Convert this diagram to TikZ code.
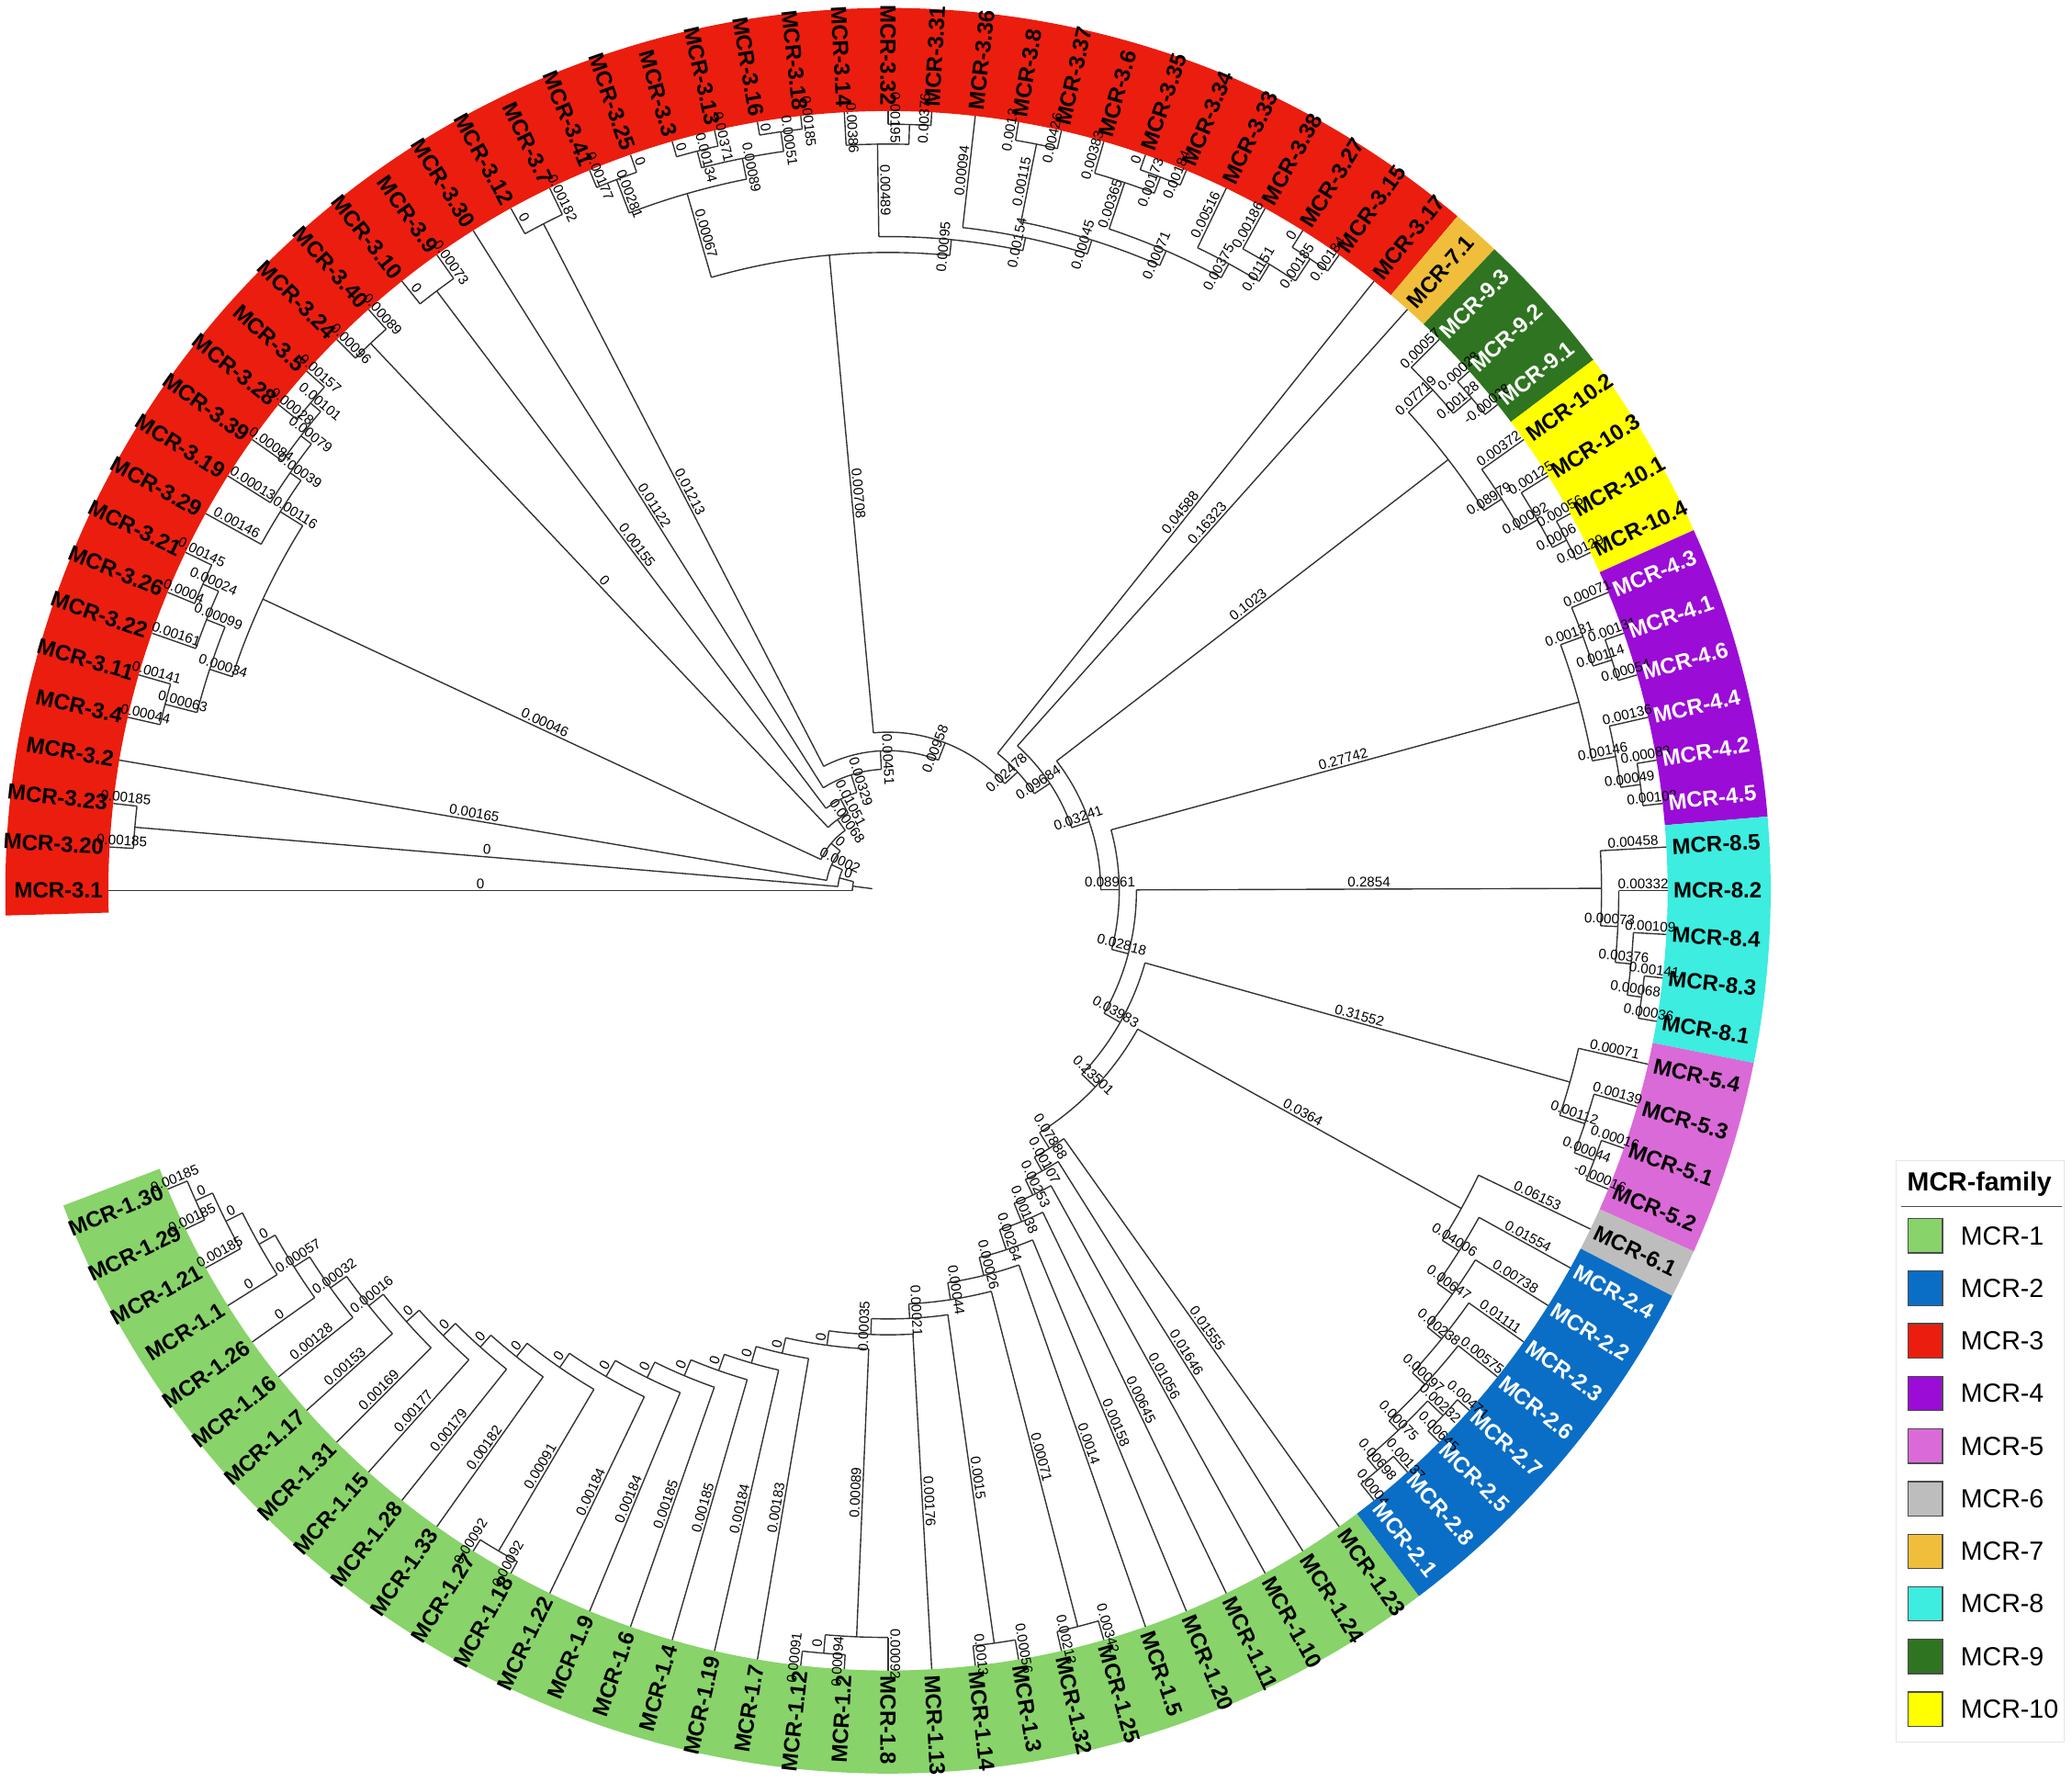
\documentclass[tikz,border=0pt]{standalone}
\usepackage{fontspec}
\setmainfont{Liberation Sans}
\usetikzlibrary{positioning}

\definecolor{mcr1}{HTML}{88D36A}
\definecolor{mcr2}{HTML}{0A6EC6}
\definecolor{mcr3}{HTML}{EB1D0E}
\definecolor{mcr4}{HTML}{9B0CD6}
\definecolor{mcr5}{HTML}{DA6AD8}
\definecolor{mcr6}{HTML}{BDBDBD}
\definecolor{mcr7}{HTML}{F0BE3A}
\definecolor{mcr8}{HTML}{3DEDDF}
\definecolor{mcr9}{HTML}{2F7420}
\definecolor{mcr10}{HTML}{FFFF00}

\tikzset{
    treeline/.style={line width=0.55pt, draw=black!80},
    blab/.style={font=\fontsize{6}{6}\selectfont, inner sep=0.8pt, anchor=south},
    leaflabel/.style={font=\bfseries\fontsize{9.5}{10}\selectfont, inner sep=0.6pt},
    legsq/.style={draw=black!70, line width=0.5pt, minimum size=0.52cm, inner sep=0pt},
    legtxt/.style={font=\fontsize{11.3}{12}\selectfont, inner sep=0pt}
}

\newcommand\stp{3.2142857}
\newcommand\upx{0.02cm}
\newcount\blc

% arc of an inner node, from leaf position #2 to #3, radius #1
\newcommand\tarc[3]{%
  \pgfmathsetmacro\tA{180-(#2)*\stp}%
  \pgfmathsetmacro\tB{180-(#3)*\stp}%
  \draw[treeline] (\tA:#1) arc[start angle=\tA, end angle=\tB, radius=#1*\upx];}

% radial branch at leaf position #1 from radius #2 to #3, label #4
\newcommand\tbr[4]{%
  \pgfmathsetmacro\ta{180-(#1)*\stp}%
  \draw[treeline] (\ta:#2) -- (\ta:#3);%
  \if\relax\detokenize{#4}\relax\else
    \pgfmathsetmacro\rmd{(#2+#3)/2}%
    \pgfmathtruncatemacro\rgt{((\ta>-90.001) && (\ta<89.999)) ? 1 : 0}%
    \global\advance\blc by 1
    \ifnum\rgt=1
      \node[blab, rotate=\ta] (bl\the\blc) at (\ta:\rmd) {#4};%
    \else
      \node[blab, rotate=\ta+180] (bl\the\blc) at (\ta:\rmd) {#4};%
    \fi
  \fi}

% coloured ring sector for leaves #1..#2
\newcommand\mcrband[3]{%
  \pgfmathsetmacro\bA{180-(#1-0.5)*\stp}%
  \pgfmathsetmacro\bB{180-(#2+0.5)*\stp}%
  \fill[#3] (\bA:590) arc[start angle=\bA, end angle=\bB, radius=590*\upx]
    -- (\bB:668) arc[start angle=\bB, end angle=\bA, radius=668*\upx] -- cycle;}

% leaf name in the ring
\newcommand\leaflab[3]{%
  \pgfmathsetmacro\ta{180-(#1)*\stp}%
  \pgfmathtruncatemacro\rgt{((\ta>-90.001) && (\ta<89.999)) ? 1 : 0}%
  \ifnum\rgt=1
    \node[leaflabel, text=#3, rotate=\ta, anchor=west] (lf#1) at (\ta:593) {MCR-#2};%
  \else
    \node[leaflabel, text=#3, rotate=\ta+180, anchor=east] (lf#1) at (\ta:593) {MCR-#2};%
  \fi}

\begin{document}
\begin{tikzpicture}[x=0.02cm, y=0.02cm]
  \useasboundingbox (-672,-674) rectangle (896,674);

  % ring of families
  \mcrband{0}{40}{mcr3}
  \mcrband{41}{41}{mcr7}
  \mcrband{42}{44}{mcr9}
  \mcrband{45}{48}{mcr10}
  \mcrband{49}{54}{mcr4}
  \mcrband{55}{59}{mcr8}
  \mcrband{60}{63}{mcr5}
  \mcrband{64}{64}{mcr6}
  \mcrband{65}{72}{mcr2}
  \mcrband{73}{105}{mcr1}

  % root and MCR-3 backbone
  \tbr{2.30}{12}{27}{}
  \tarc{27}{0}{4.60}
  \tbr{0}{27}{590}{0}
  \tbr{4.60}{27}{38}{0}
  \tarc{38}{1.5}{7.70}
  \tbr{1.5}{38}{572}{0}
  \tbr{7.70}{38}{47}{0.0002}
  \tarc{572}{1}{2}
  \tbr{1}{572}{590}{0.00185}
  \tbr{2}{572}{590}{0.00185}
  \tarc{47}{3}{12.39}
  \tbr{3}{47}{590}{0.00165}
  \tbr{12.39}{47}{56}{0}
  \tarc{56}{7.78}{17.0}
  \tbr{7.78}{56}{522}{0.00046}
  \tbr{17.0}{56}{66}{0.00068}
  % left MCR-3 clade
  \tarc{522}{5.625}{9.94}
  \tbr{5.625}{522}{540}{0.00034}
  \tbr{9.94}{522}{542}{0.00116}
  \tarc{540}{4.5}{6.75}
  \tbr{4.5}{540}{565}{0.00063}
  \tbr{6.75}{540}{555}{0.00099}
  \tarc{565}{4}{5}
  \tbr{4}{565}{590}{0.00044}
  \tbr{5}{565}{590}{0.00141}
  \tarc{555}{6}{7.5}
  \tbr{6}{555}{590}{0.00161}
  \tbr{7.5}{555}{568}{0.00024}
  \tarc{568}{7}{8}
  \tbr{7}{568}{590}{0.0004}
  \tbr{8}{568}{590}{0.00145}
  \tarc{542}{9}{10.875}
  \tbr{9}{542}{590}{0.00146}
  \tbr{10.875}{542}{552}{0.00039}
  \tarc{552}{10}{11.75}
  \tbr{10}{552}{590}{0.00013}
  \tbr{11.75}{552}{562}{0.00079}
  \tarc{562}{11}{12.5}
  \tbr{11}{562}{590}{0.00084}
  \tbr{12.5}{562}{572}{0.00101}
  \tarc{572}{12}{13}
  \tbr{12}{572}{590}{0.00028}
  \tbr{13}{572}{590}{0.00157}
  % upper left MCR-3
  \tarc{66}{14.5}{19.51}
  \tbr{14.5}{66}{570}{0}
  \tbr{19.51}{66}{78}{0.01051}
  \tarc{570}{14}{15}
  \tbr{14}{570}{590}{0.00096}
  \tbr{15}{570}{590}{0.00089}
  \tarc{78}{16.5}{22.52}
  \tbr{16.5}{78}{568}{0.00155}
  \tbr{22.52}{78}{92}{0.00329}
  \tarc{568}{16}{17}
  \tbr{16}{568}{590}{0}
  \tbr{17}{568}{590}{0.00073}
  \tarc{92}{18}{27.03}
  \tbr{18}{92}{590}{0.01122}
  \tbr{27.03}{92}{106}{0.00451}
  \tarc{106}{19.5}{34.57}
  \tbr{19.5}{106}{568}{0.01213}
  \tbr{34.57}{106}{120}{0.00958}
  \tarc{568}{19}{20}
  \tbr{19}{568}{590}{0}
  \tbr{20}{568}{590}{0.00182}
  \tarc{120}{26.36}{42.78}
  \tbr{26.36}{120}{483}{0.00708}
  \tbr{42.78}{120}{133}{0.02478}
  % top MCR-3
  \tarc{483}{23}{29.73}
  \tbr{23}{483}{549}{0.00067}
  \tbr{29.73}{483}{495}{0.00095}
  \tarc{549}{21.5}{24.5}
  \tbr{21.5}{549}{576}{0.00281}
  \tbr{24.5}{549}{565}{0.00089}
  \tarc{576}{21}{22}
  \tbr{21}{576}{590}{0.00177}
  \tbr{22}{576}{590}{0}
  \tarc{565}{23.5}{25.5}
  \tbr{23.5}{565}{578}{0.00134}
  \tbr{25.5}{565}{580}{0.00051}
  \tarc{578}{23}{24}
  \tbr{23}{578}{590}{0}
  \tbr{24}{578}{590}{0.00371}
  \tarc{580}{25}{26}
  \tbr{25}{580}{590}{0}
  \tbr{26}{580}{590}{0.00185}
  \tarc{495}{27.75}{31.70}
  \tbr{27.75}{495}{565}{0.00489}
  \tbr{31.70}{495}{505}{0.00154}
  \tarc{565}{27}{28.5}
  \tbr{27}{565}{590}{0.00386}
  \tbr{28.5}{565}{580}{}
  \tarc{580}{28}{29}
  \tbr{28}{580}{590}{0.00195}
  \tbr{29}{580}{590}{0.00376}
  \tarc{505}{30}{33.41}
  \tbr{30}{505}{590}{0.00094}
  \tbr{33.41}{505}{516}{0.00045}
  \tarc{516}{31.5}{35.31}
  \tbr{31.5}{516}{576}{0.00115}
  \tbr{35.31}{516}{528}{0.00071}
  \tarc{576}{31}{32}
  \tbr{31}{576}{590}{0.0013}
  \tbr{32}{576}{590}{0.00426}
  \tarc{528}{33.75}{36.875}
  \tbr{33.75}{528}{565}{0.00365}
  \tbr{36.875}{528}{540}{0.00375}
  \tarc{565}{33}{34.5}
  \tbr{33}{565}{590}{0.00383}
  \tbr{34.5}{565}{578}{0.00173}
  \tarc{578}{34}{35}
  \tbr{34}{578}{590}{0}
  \tbr{35}{578}{590}{0.00184}
  \tarc{540}{36}{37.75}
  \tbr{36}{540}{590}{0.00516}
  \tbr{37.75}{540}{555}{0.01151}
  \tarc{555}{37}{38.5}
  \tbr{37}{555}{590}{0.00186}
  \tbr{38.5}{555}{575}{0.00185}
  \tarc{575}{38}{39}
  \tbr{38}{575}{590}{0}
  \tbr{39}{575}{590}{0.00184}

  % right backbone
  \tarc{133}{40}{45.56}
  \tbr{40}{133}{590}{0.04588}
  \tbr{45.56}{133}{147}{0.09684}
  \tarc{147}{41}{50.11}
  \tbr{41}{147}{590}{0.16323}
  \tbr{50.11}{147}{161}{0.03241}
  \tarc{161}{44.31}{55.91}
  \tbr{44.31}{161}{535}{0.1023}
  \tbr{55.91}{161}{175}{0.08961}
  % MCR-9 and MCR-10
  \tarc{535}{42.75}{45.875}
  \tbr{42.75}{535}{560}{0.07719}
  \tbr{45.875}{535}{551}{0.08979}
  \tarc{560}{42}{43.5}
  \tbr{42}{560}{590}{0.00057}
  \tbr{43.5}{560}{578}{0.00128}
  \tarc{578}{43}{44}
  \tbr{43}{578}{590}{0.00028}
  \tbr{44}{578}{590}{-0.00028}
  \tarc{551}{45}{46.75}
  \tbr{45}{551}{590}{0.00372}
  \tbr{46.75}{551}{566}{0.00092}
  \tarc{566}{46}{47.5}
  \tbr{46}{566}{590}{0.00125}
  \tbr{47.5}{566}{578}{0.0006}
  \tarc{578}{47}{48}
  \tbr{47}{578}{590}{0.00056}
  \tbr{48}{578}{590}{0.00129}
  % MCR-4
  \tarc{175}{51.25}{60.57}
  \tbr{51.25}{175}{542}{0.27742}
  \tbr{60.57}{175}{188}{0.02818}
  \tarc{542}{49.75}{52.75}
  \tbr{49.75}{542}{560}{0.00131}
  \tbr{52.75}{542}{560}{0.00146}
  \tarc{560}{49}{50.5}
  \tbr{49}{560}{590}{0.00071}
  \tbr{50.5}{560}{575}{0.00114}
  \tarc{575}{50}{51}
  \tbr{50}{575}{590}{0.00131}
  \tbr{51}{575}{590}{0.00054}
  \tarc{560}{52}{53.5}
  \tbr{52}{560}{590}{0.00136}
  \tbr{53.5}{560}{575}{0.00049}
  \tarc{575}{53}{54}
  \tbr{53}{575}{590}{0.00083}
  \tbr{54}{575}{590}{0.00102}
  % MCR-8
  \tarc{188}{55.94}{65.19}
  \tbr{55.94}{188}{540}{0.2854}
  \tbr{65.19}{188}{202}{0.03983}
  \tarc{540}{55}{56.875}
  \tbr{55}{540}{590}{0.00458}
  \tbr{56.875}{540}{553}{0.00073}
  \tarc{553}{56}{57.75}
  \tbr{56}{553}{590}{0.00332}
  \tbr{57.75}{553}{565}{0.00376}
  \tarc{565}{57}{58.5}
  \tbr{57}{565}{590}{0.00109}
  \tbr{58.5}{565}{576}{0.00068}
  \tarc{576}{58}{59}
  \tbr{58}{576}{590}{0.00141}
  \tbr{59}{576}{590}{0.00036}
  % MCR-5
  \tarc{202}{60.875}{69.51}
  \tbr{60.875}{202}{536}{0.31552}
  \tbr{69.51}{202}{216}{0.23501}
  \tarc{536}{60}{61.75}
  \tbr{60}{536}{590}{0.00071}
  \tbr{61.75}{536}{556}{0.00112}
  \tarc{556}{61}{62.5}
  \tbr{61}{556}{590}{0.00139}
  \tbr{62.5}{556}{572}{0.00044}
  \tarc{572}{62}{63}
  \tbr{62}{572}{590}{0.00016}
  \tbr{63}{572}{590}{-0.00016}
  % MCR-6 and MCR-2
  \tarc{216}{65.02}{74.02}
  \tbr{65.02}{216}{496}{0.0364}
  \tbr{74.02}{216}{230}{0.07888}
  \tarc{496}{64}{66.03}
  \tbr{64}{496}{590}{0.06153}
  \tbr{66.03}{496}{511}{0.04006}
  \tarc{511}{65}{67.06}
  \tbr{65}{511}{590}{0.01554}
  \tbr{67.06}{511}{525}{0.00647}
  \tarc{525}{66}{68.125}
  \tbr{66}{525}{590}{0.00738}
  \tbr{68.125}{525}{539}{0.00238}
  \tarc{539}{67}{69.25}
  \tbr{67}{539}{590}{0.01111}
  \tbr{69.25}{539}{552}{0.00097}
  \tarc{552}{68}{70.5}
  \tbr{68}{552}{590}{0.00575}
  \tbr{70.5}{552}{562}{0.00075}
  \tarc{562}{69.5}{71.5}
  \tbr{69.5}{562}{578}{0.00232}
  \tbr{71.5}{562}{574}{0.00698}
  \tarc{578}{69}{70}
  \tbr{69}{578}{590}{0.00471}
  \tbr{70}{578}{590}{0.00645}
  \tarc{574}{71}{72}
  \tbr{71}{574}{590}{0.00137}
  \tbr{72}{574}{590}{0.0004}

  % MCR-1 ladder
  \tarc{230}{73}{75.04}
  \tbr{73}{230}{590}{0.01555}
  \tbr{75.04}{230}{242}{0.00107}
  \tarc{242}{74}{76.08}
  \tbr{74}{242}{590}{0.01646}
  \tbr{76.08}{242}{255}{0.00253}
  \tarc{255}{75}{77.16}
  \tbr{75}{255}{590}{0.01056}
  \tbr{77.16}{255}{270}{0.00138}
  \tarc{270}{76}{78.33}
  \tbr{76}{270}{590}{0.00645}
  \tbr{78.33}{270}{286}{0.00264}
  \tarc{286}{77}{79.65}
  \tbr{77}{286}{590}{0.00158}
  \tbr{79.65}{286}{300}{0.00026}
  \tarc{300}{78}{81.30}
  \tbr{78}{300}{590}{0.0014}
  \tbr{81.30}{300}{313}{0.00044}
  \tarc{313}{79.5}{83.10}
  \tbr{79.5}{313}{575}{0.00071}
  \tbr{83.10}{313}{324}{0.00021}
  \tarc{575}{79}{80}
  \tbr{79}{575}{590}{0.00342}
  \tbr{80}{575}{590}{0.00213}
  \tarc{324}{81.5}{84.69}
  \tbr{81.5}{324}{575}{0.0015}
  \tbr{84.69}{324}{336}{0.00035}
  \tarc{575}{81}{82}
  \tbr{81}{575}{590}{0.00056}
  \tbr{82}{575}{590}{0.0013}
  \tarc{336}{83}{86.38}
  \tbr{83}{336}{590}{0.00176}
  \tbr{86.38}{336}{347}{0}
  \tarc{347}{84.75}{88.01}
  \tbr{84.75}{347}{565}{0.00089}
  \tbr{88.01}{347}{359}{0}
  \tarc{565}{84}{85.5}
  \tbr{84}{565}{590}{0.00092}
  \tbr{85.5}{565}{579}{0}
  \tarc{579}{85}{86}
  \tbr{85}{579}{590}{0.00094}
  \tbr{86}{579}{590}{0.00091}
  \tarc{359}{87}{89.02}
  \tbr{87}{359}{590}{0.00183}
  \tbr{89.02}{359}{372}{0}
  \tarc{372}{88}{90.05}
  \tbr{88}{372}{590}{0.00184}
  \tbr{90.05}{372}{385}{0}
  \tarc{385}{89}{91.09}
  \tbr{89}{385}{590}{0.00185}
  \tbr{91.09}{385}{398}{0}
  \tarc{398}{90}{92.19}
  \tbr{90}{398}{590}{0.00185}
  \tbr{92.19}{398}{411}{0}
  \tarc{411}{91}{93.375}
  \tbr{91}{411}{590}{0.00184}
  \tbr{93.375}{411}{425}{0}
  \tarc{425}{92}{94.75}
  \tbr{92}{425}{590}{0.00184}
  \tbr{94.75}{425}{438}{0}
  \tarc{438}{93.5}{96.0}
  \tbr{93.5}{438}{580}{0.00091}
  \tbr{96.0}{438}{451}{0}
  \tarc{580}{93}{94}
  \tbr{93}{580}{590}{0.00092}
  \tbr{94}{580}{590}{0.00092}
  \tarc{451}{95}{97.0}
  \tbr{95}{451}{590}{0.00182}
  \tbr{97.0}{451}{463}{0}
  \tarc{463}{96}{98.0}
  \tbr{96}{463}{590}{0.00179}
  \tbr{98.0}{463}{476}{0}
  \tarc{476}{97}{98.99}
  \tbr{97}{476}{590}{0.00177}
  \tbr{98.99}{476}{489}{0}
  \tarc{489}{98}{99.98}
  \tbr{98}{489}{590}{0.00169}
  \tbr{99.98}{489}{503}{0.00016}
  \tarc{503}{99}{100.97}
  \tbr{99}{503}{590}{0.00153}
  \tbr{100.97}{503}{518}{0.00032}
  \tarc{518}{100}{101.94}
  \tbr{100}{518}{590}{0.00128}
  \tbr{101.94}{518}{532}{0.00057}
  \tarc{532}{101}{102.875}
  \tbr{101}{532}{590}{0}
  \tbr{102.875}{532}{546}{0}
  \tarc{546}{102}{103.75}
  \tbr{102}{546}{590}{0}
  \tbr{103.75}{546}{560}{0}
  \tarc{560}{103}{104.5}
  \tbr{103}{560}{590}{0.00185}
  \tbr{104.5}{560}{574}{0}
  \tarc{574}{104}{105}
  \tbr{104}{574}{590}{0.00185}
  \tbr{105}{574}{590}{0.00185}

  % leaf names
  \foreach \nm [count=\i from 0] in {3.1,3.20,3.23,3.2,3.4,3.11,3.22,3.26,3.21,3.29,3.19,3.39,3.28,3.5,3.24,3.40,3.10,3.9,3.30,3.12,3.7,3.41,3.25,3.3,3.13,3.16,3.18,3.14,3.32,3.31,3.36,3.8,3.37,3.6,3.35,3.34,3.33,3.38,3.27,3.15,3.17}
    {\leaflab{\i}{\nm}{black}}
  \leaflab{41}{7.1}{black}
  \foreach \nm [count=\i from 42] in {9.3,9.2,9.1} {\leaflab{\i}{\nm}{white}}
  \foreach \nm [count=\i from 45] in {10.2,10.3,10.1,10.4} {\leaflab{\i}{\nm}{black}}
  \foreach \nm [count=\i from 49] in {4.3,4.1,4.6,4.4,4.2,4.5} {\leaflab{\i}{\nm}{white}}
  \foreach \nm [count=\i from 55] in {8.5,8.2,8.4,8.3,8.1} {\leaflab{\i}{\nm}{black}}
  \foreach \nm [count=\i from 60] in {5.4,5.3,5.1,5.2} {\leaflab{\i}{\nm}{black}}
  \leaflab{64}{6.1}{black}
  \foreach \nm [count=\i from 65] in {2.4,2.2,2.3,2.6,2.7,2.5,2.8,2.1} {\leaflab{\i}{\nm}{white}}
  \foreach \nm [count=\i from 73] in {1.23,1.24,1.10,1.11,1.20,1.5,1.25,1.32,1.3,1.14,1.13,1.8,1.2,1.12,1.7,1.19,1.4,1.6,1.9,1.22,1.18,1.27,1.33,1.28,1.15,1.31,1.17,1.16,1.26,1.1,1.21,1.29,1.30}
    {\leaflab{\i}{\nm}{black}}

  % legend
  \draw[black!10, line width=0.5pt] (763,-204) rectangle (890,-644);
  \node[font=\bfseries\fontsize{11.3}{12}\selectfont] (legtitle) at (826,-222) {MCR-family};
  \draw[black!70, line width=0.6pt] (767,-239) -- (888,-239);
  \foreach \k [count=\j from 0] in {1,2,3,4,5,6,7,8,9,10} {
    \node[legsq, fill=mcr\k] (sq\k) at (785,{-261-39.8*\j}) {};
    \node[legtxt, right=0.26cm of sq\k] (lg\k) {MCR-\k};
  }
\end{tikzpicture}
\end{document}
